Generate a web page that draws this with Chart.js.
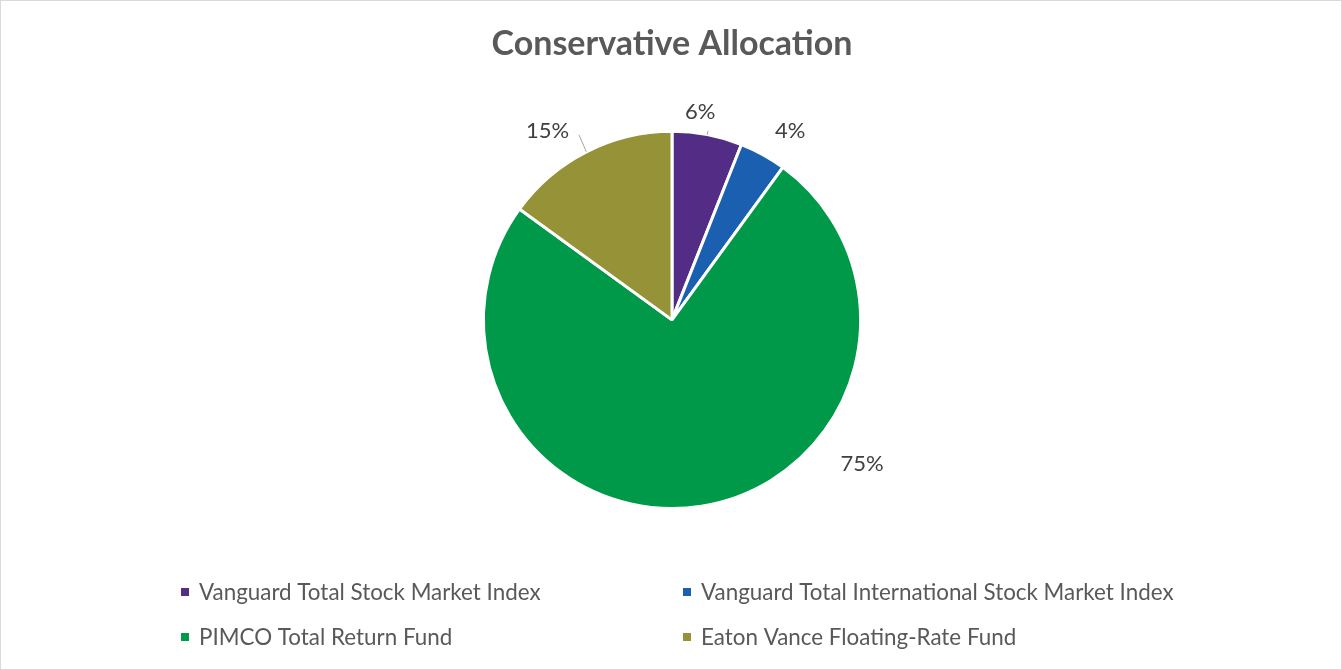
<!DOCTYPE html>
<html>
<head>
<meta charset="utf-8">
<script src="https://cdn.jsdelivr.net/npm/chart.js@4.4.1/dist/chart.umd.min.js"></script>
<style>
  html, body { margin: 0; padding: 0; background: #fff; }
  #wrap { position: relative; width: 1340px; height: 668px; border: 1px solid #d9d9d9; }
</style>
</head>
<body>
<div id="wrap"><canvas id="allocChart"></canvas></div>
<script>
const funds = [
  'Vanguard Total Stock Market Index',
  'Vanguard Total International Stock Market Index',
  'PIMCO Total Return Fund',
  'Eaton Vance Floating-Rate Fund'
];
const weights = [6, 4, 75, 15];
const fundColors = ['#532d85', '#1a5fb0', '#009949', '#959237'];

const FONT = 'Lato, "Open Sans", sans-serif';

// data labels outside the slices, Excel style
const outsideLabels = {
  id: 'outsideLabels',
  afterDatasetsDraw(chart, args, opts) {
    const ctx = chart.ctx;
    const meta = chart.getDatasetMeta(0);
    const total = weights.reduce((a, b) => a + b, 0);
    ctx.save();
    ctx.font = opts.size + 'px ' + FONT;
    ctx.fillStyle = '#404040';
    ctx.textAlign = 'center';
    ctx.textBaseline = 'middle';
    meta.data.forEach((arc, i) => {
      const { x, y, outerRadius, startAngle, endAngle } = arc.getProps(['x', 'y', 'outerRadius', 'startAngle', 'endAngle'], true);
      const spot = opts.spots[i];
      const a = spot.angle * Math.PI / 180;
      const lx = x + Math.cos(a) * (outerRadius + spot.gap);
      const ly = y + Math.sin(a) * (outerRadius + spot.gap);
      const text = Math.round(weights[i] / total * 100) + '%';
      ctx.fillText(text, lx, ly);
      if (spot.leader) {
        const mid = (startAngle + endAngle) / 2;
        const px = x + Math.cos(mid) * outerRadius;
        const py = y + Math.sin(mid) * outerRadius;
        ctx.strokeStyle = '#a6a6a6';
        ctx.lineWidth = 1;
        ctx.beginPath();
        ctx.moveTo(px, py);
        ctx.lineTo(spot.leader[0] + x, spot.leader[1] + y);
        ctx.stroke();
      }
    });
    ctx.restore();
  }
};

// two column legend under the pie
const columnLegend = {
  id: 'columnLegend',
  afterDraw(chart, args, opts) {
    const ctx = chart.ctx;
    ctx.save();
    ctx.font = opts.size + 'px ' + FONT;
    ctx.textBaseline = 'middle';
    funds.forEach((name, i) => {
      const cx = opts.cols[i % 2];
      const cy = opts.rows[Math.floor(i / 2)];
      ctx.fillStyle = fundColors[i];
      ctx.fillRect(cx, cy - 4, 8, 8);
      ctx.fillStyle = '#595959';
      ctx.fillText(name, cx + 18, cy + 1);
    });
    ctx.restore();
  }
};

new Chart(document.getElementById('allocChart'), {
  type: 'pie',
  data: {
    labels: funds,
    datasets: [{
      data: weights,
      backgroundColor: fundColors,
      borderColor: '#ffffff',
      borderWidth: 3
    }]
  },
  options: {
    responsive: true,
    maintainAspectRatio: false,
    animation: false,
    layout: { padding: { top: 0, bottom: 159, left: 2, right: 0 } },
    plugins: {
      legend: { display: false },
      tooltip: { enabled: false },
      title: {
        display: true,
        text: 'Conservative Allocation',
        color: '#595959',
        font: { family: FONT, size: 34, weight: 'bold' },
        padding: { top: 23, bottom: 65 }
      },
      outsideLabels: {
        size: 22,
        spots: [
          { angle: -82.3, gap: 21, leader: [36, -189] },
          { angle: -57.9, gap: 34, leader: null },
          { angle: 37.2, gap: 50, leader: null },
          { angle: -123.3, gap: 38, leader: [-93, -185] }
        ]
      },
      columnLegend: { size: 22.4, cols: [180, 682], rows: [591, 636] }
    }
  },
  plugins: [outsideLabels, columnLegend]
});
</script>
</body>
</html>
